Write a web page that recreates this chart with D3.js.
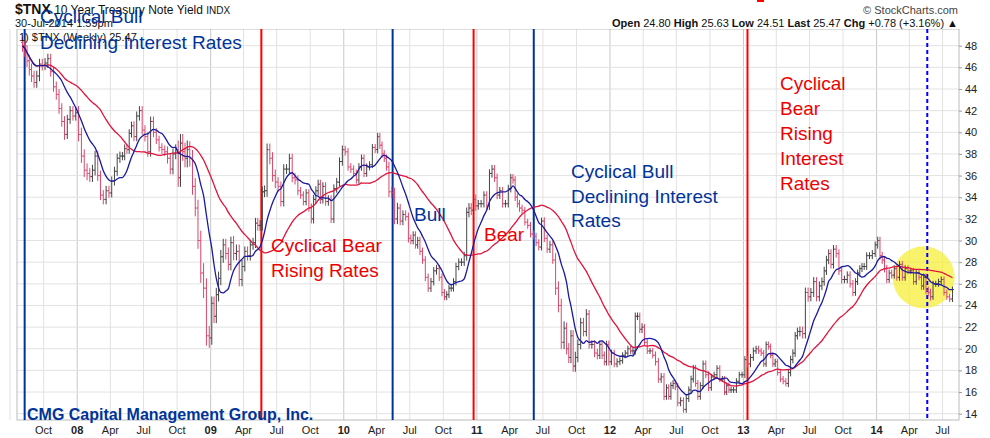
<!DOCTYPE html>
<html><head><meta charset="utf-8">
<script src="https://d3js.org/d3.v7.min.js"></script>
<style>body{margin:0;background:#fff;font-family:Arial,"Liberation Sans",sans-serif}</style>
</head><body><svg id="c" width="990" height="438"></svg>
<script>
const firstMonth = "2007-08-01";
// weekly closes, grouped by month (Aug 2007 .. Jul 2014)
const monthlyCloses = [
[48.0,47.5,46.6,45.8,45.2],[44.6,45.2,46.3,46.2],[46.4,46.8,45.6,44.2],[43.5,42.2,41.0,39.8],[41.2,42.0,41.5,41.8],
[39.8,37.8,36.5,36.2],[35.9,36.5,37.8,36.0],[34.2,33.8,34.6,34.4],[35.5,36.4,37.6,37.8],[37.8,38.5,38.4,39.9,40.6],
[39.6,41.5,42.0,40.2],[39.6,38.2,41.0,40.0],[39.3,38.6,38.4,38.2],[37.6,36.6,38.0,38.4],[35.8,39.0,38.2,37.6,38.4],
[37.6,35.0,33.0,30.0],[27.0,25.6,21.2,21.0],
[24.2,23.0,25.0,26.5,28.5],[29.6,28.8,27.8,29.8],[28.8,29.0,26.4,27.6],[29.0,28.6,29.6,29.8],[31.6,31.4,31.4,34.5,34.6],
[38.4,37.6,36.0,35.4],[35.0,33.6,36.6,36.6],[37.6,35.8,35.6,34.6],[34.2,33.6,34.4,33.0],[32.0,33.8,34.6,35.2,33.8],
[35.0,33.6,33.8,32.0],[34.8,35.4,37.3,38.4],
[38.2,36.8,36.6,36.2],[35.6,36.8,37.6,36.2],[36.8,37.0,38.6,38.4],[39.6,38.8,38.0,37.6,36.8],[34.5,34.4,32.0,33.0],
[31.8,32.4,32.2,30.2],[30.0,30.5,29.6,30.0,29.0],[28.2,26.6,25.6,26.2],[27.2,27.4,26.6,25.2],[24.8,25.0,25.6,25.6,26.2],
[27.6,28.0,28.0,28.6],[32.6,33.0,32.8,33.8,33.2],
[33.4,33.4,34.2,33.2],[36.2,36.6,35.8,34.2],[34.6,33.4,33.4,34.8],[35.8,35.6,34.0,33.4,33.0],[32.8,31.7,31.4,30.6],
[30.4,29.8,29.4,31.8],[30.2,29.2,29.6,28.2],[25.6,24.0,20.6,21.9],[20.0,19.2,21.2,18.4,19.2],[20.4,22.4,21.6,23.2],
[20.4,20.4,19.6,19.4],[20.4,19.4,18.8,20.4,18.8],
[19.6,18.6,18.8,18.9],[19.4,19.6,20.0,19.8],[19.8,23.0,23.0,21.8,22.0],[20.6,19.8,19.8,19.4],[18.8,17.2,17.4,15.6],
[16.4,15.6,16.6,16.8,16.5],[15.0,15.2,14.4,15.4],[16.2,17.2,18.2,16.8,15.6],[16.6,18.6,17.6,16.4],[17.4,17.6,18.2,17.2],
[17.2,16.0,16.6,16.2,16.2],[16.2,17.0,17.6,17.6],
[19.0,18.6,19.2,19.8],[20.0,19.8,19.6,18.6],[20.4,20.2,19.4,18.6,18.8],[17.8,17.2,17.0,16.8],[17.8,19.0,19.6,21.2,21.6],
[21.6,21.4,25.2,24.8],[25.2,26.2,24.8,25.8],[26.2,27.2,28.2,28.8,27.8],[29.2,28.8,27.2,26.4],[26.4,26.8,26.0,25.2],
[26.2,27.0,27.4,27.6,27.6],[28.6,28.6,28.8,29.6],
[30.0,28.6,28.2,27.4,26.4],[27.0,26.8,27.4,26.6],[27.8,26.6,27.4,27.2],[27.2,26.2,27.0,26.6],[25.8,26.6,25.4,25.2,24.8],
[26.0,26.0,26.2,26.4],[25.2,24.8,24.6,25.47]
];
// typical weekly high-low range by month (yield points)
const monthlyRange = [1.6,1.4,1.3,1.4,1.2,1.8,1.4,1.3,1.2,1.1,1.2,1.3,1.1,1.4,2.4,2.2,2.6,1.8,1.6,1.8,1.3,1.4,1.6,1.3,1.2,1.0,1.2,1.1,1.1,
1.0,1.0,0.9,1.0,1.4,1.1,1.0,1.0,1.0,0.9,1.0,1.3,1.0,1.1,1.0,1.0,0.9,0.9,1.0,1.8,1.5,1.3,1.1,1.0,0.9,0.8,1.0,0.8,1.0,0.9,0.9,0.9,0.9,0.8,0.8,0.8,
0.9,0.8,0.8,0.8,1.0,1.3,1.2,1.1,1.1,1.0,0.9,0.9,1.0,0.9,0.9,0.8,1.0,0.8,0.8];
const ticksY = d3.range(14, 49, 2);
const vlines = [
 {date:"2007-08-10", color:"#003399", dash:false},
 {date:"2009-05-20", color:"#ff0000", dash:false},
 {date:"2010-05-15", color:"#003399", dash:false},
 {date:"2010-12-23", color:"#ff0000", dash:false},
 {date:"2011-06-06", color:"#003399", dash:false},
 {date:"2013-01-12", color:"#ff0000", dash:false},
 {date:"2014-05-20", color:"#0000ff", dash:true}
];

const svg = d3.select("#c");
const L=17,R=959,T=29,B=420;
const parse = d3.timeParse("%Y-%m-%d");
const m0 = parse(firstMonth);
const data = [];
monthlyCloses.forEach((arr,mi)=>{
  const ms = d3.timeMonth.offset(m0,mi), me = d3.timeMonth.offset(m0,mi+1);
  arr.forEach((c,k)=>{
    const date = new Date(+ms + (me-ms)*(k+0.5)/arr.length);
    data.push({date,c,s:monthlyRange[mi]||0.9});
  });
});
const closes = data.map(d=>d.c);
data.forEach((d,i)=>{
  d.o = i>0 ? closes[i-1] : d.c+0.3;
  d.h = Math.max(d.o,d.c)+d.s*0.35; d.l = Math.min(d.o,d.c)-d.s*0.35;
});
const x = d3.scaleTime().domain([parse("2007-07-20"), parse("2014-08-15")]).range([L,R]);
const y = d3.scaleLinear().domain([14,48]).range([413.7,45.7]);

const months = d3.timeMonth.every(3).range(parse("2007-07-01"), parse("2014-09-01"));
svg.append("g").selectAll("line").data(months).join("line")
 .attr("x1",d=>x(d)).attr("x2",d=>x(d)).attr("y1",T).attr("y2",B)
 .attr("stroke",d=>d.getMonth()===0?"#c8c8c8":"#e2e2e2").attr("stroke-width",1);
svg.append("g").selectAll("line").data(ticksY).join("line")
 .attr("x1",L).attr("x2",R).attr("y1",d=>y(d)).attr("y2",d=>y(d)).attr("stroke","#e2e2e2");
svg.append("rect").attr("x",L).attr("y",T).attr("width",R-L).attr("height",B-T)
 .attr("fill","none").attr("stroke","#bbb");

const ya = svg.append("g").attr("transform",`translate(${R},0)`)
 .call(d3.axisRight(y).tickValues(ticksY).tickSize(3).tickFormat(d3.format("d")));
ya.select(".domain").remove();
ya.selectAll("text").attr("font-size",11).attr("fill","#222").attr("font-family","Arial");
ya.selectAll("line").attr("stroke","#999");
const mn=["","","","Apr","","","Jul","","","Oct","",""];
svg.append("g").selectAll("text").data(months.filter(d=>x(d)>L+5&&x(d)<R)).join("text")
 .attr("x",d=>x(d)).attr("y",434).attr("text-anchor","middle").attr("font-size",11)
 .attr("font-weight",d=>d.getMonth()===0?"bold":"normal").attr("fill","#222")
 .text(d=>d.getMonth()===0?d3.timeFormat("%y")(d):mn[d.getMonth()]);

svg.append("circle").attr("cx",x(parse("2014-05-10"))).attr("cy",y(26.6)).attr("r",31)
 .attr("fill","#f5ef3a").attr("opacity",0.75);

svg.append("g").selectAll("line").data(vlines).join("line")
 .attr("x1",d=>x(parse(d.date))).attr("x2",d=>x(parse(d.date))).attr("y1",T).attr("y2",B)
 .attr("stroke",d=>d.color).attr("stroke-width",2).attr("stroke-dasharray",d=>d.dash?"4,3":null);

const g = svg.append("g");
data.forEach(d=>{
  const cx=x(d.date), col = d.c>=d.o ? "#444" : "#d9486e";
  g.append("line").attr("x1",cx).attr("x2",cx).attr("y1",y(d.h)).attr("y2",y(d.l)).attr("stroke",col);
  g.append("line").attr("x1",cx-1.5).attr("x2",cx).attr("y1",y(d.o)).attr("y2",y(d.o)).attr("stroke",col);
  g.append("line").attr("x1",cx).attr("x2",cx+1.5).attr("y1",y(d.c)).attr("y2",y(d.c)).attr("stroke",col);
});
function ma(n){return data.map((d,i)=>({date:d.date,v:d3.mean(closes.slice(Math.max(0,i-n+1),i+1))}));}
const line=d3.line().x(d=>x(d.date)).y(d=>y(d.v)).curve(d3.curveMonotoneX);
svg.append("path").datum(ma(30)).attr("d",line).attr("fill","none").attr("stroke","#e0143c").attr("stroke-width",1.3);
svg.append("path").datum(ma(10)).attr("d",line).attr("fill","none").attr("stroke","#1a1aa0").attr("stroke-width",1.3);

const t=(txt,xx,yy,o={})=>svg.append("text").attr("x",xx).attr("y",yy).text(txt)
 .attr("font-size",o.s||11).attr("font-weight",o.w||"normal").attr("fill",o.c||"#111")
 .attr("text-anchor",o.a||"start").attr("font-family",o.f||"Arial");
svg.append("rect").attr("x",0).attr("y",0).attr("width",990).attr("height",T).attr("fill","#fff");
const h=svg.append("text").attr("x",15).attr("y",14).attr("font-family","Arial").attr("fill","#111");
h.append("tspan").text("$TNX").attr("font-weight","bold").attr("font-size",14);
h.append("tspan").text(" 10 Year Treasury Note Yield ").attr("font-size",12);
h.append("tspan").text("INDX").attr("font-size",10);
t("30-Jul-2014 1:59pm",15,27,{s:11});
t("1) $TNX (Weekly) 25.47",19,41,{s:11});
t("© StockCharts.com",958,14,{s:11,a:"end",c:"#444"});
const q=svg.append("text").attr("x",958).attr("y",27).attr("text-anchor","end").attr("font-size",11).attr("font-family","Arial").attr("fill","#111");
[["Open"," 24.80  "],["High"," 25.63  "],["Low"," 24.51  "],["Last"," 25.47  "],["Chg"," +0.78 (+3.16%) ▲"]].forEach(([a,b])=>{
 q.append("tspan").text(a).attr("font-weight","bold"); q.append("tspan").text(b);});
svg.append("rect").attr("x",757).attr("y",0).attr("width",7).attr("height",2).attr("fill","#ff0000");

const blue="#003399", red="#ee0000";
t("Cyclical Bull",40,23,{s:19,c:blue}); t("Declining Interest Rates",40,49,{s:19,c:blue});
t("Cyclical Bear",271,252,{s:19,c:red}); t("Rising Rates",271,277,{s:19,c:red});
t("Bull",414,221,{s:19,c:blue}); t("Bear",484,241,{s:19,c:red});
t("Cyclical Bull",571,178,{s:19,c:blue}); t("Declining Interest",571,203,{s:19,c:blue}); t("Rates",571,227,{s:19,c:blue});
["Cyclical","Bear","Rising","Interest","Rates"].forEach((s,i)=>t(s,780,90+i*25,{s:19,c:red}));
t("CMG Capital Management Group, Inc.",27,420,{s:16,w:"bold",c:blue});
</script></body></html>
